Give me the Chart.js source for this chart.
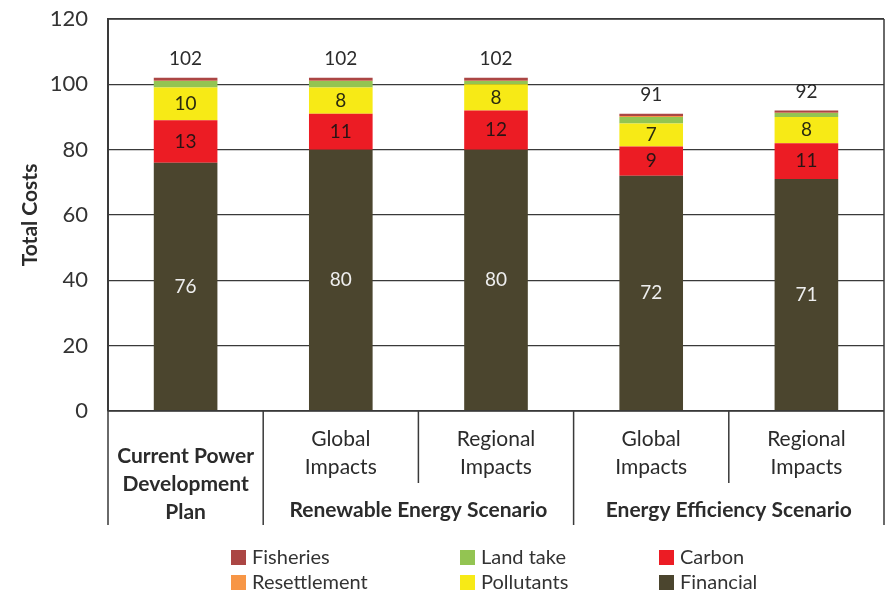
<!DOCTYPE html>
<html>
<head>
<meta charset="utf-8">
<script src="https://cdn.jsdelivr.net/npm/chart.js@4.4.1/dist/chart.umd.min.js"></script>
<style>
  html, body { margin: 0; padding: 0; background: #fff; }
  #wrap { width: 886px; height: 593px; position: relative; }
</style>
</head>
<body>
<div id="wrap"><canvas id="costChart"></canvas></div>
<script>
// Data
const categories = ['Current Power Development Plan', 'RE Global Impacts', 'RE Regional Impacts', 'EE Global Impacts', 'EE Regional Impacts'];
const categoryLines = [['Current Power', 'Development', 'Plan'], ['Global', 'Impacts'], ['Regional', 'Impacts'], ['Global', 'Impacts'], ['Regional', 'Impacts']];
const scenarioGroups = [
  { label: 'Renewable Energy Scenario', from: 1, to: 2 },
  { label: 'Energy Efficiency Scenario', from: 3, to: 4 }
];
const financial = [76, 80, 80, 72, 71];
const carbon = [13, 11, 12, 9, 11];
const pollutants = [10, 8, 8, 7, 8];
const landTake = [2, 2, 1, 2, 1.2];
const resettlement = [0.1, 0.1, 0.1, 0.3, 0.1];
const fisheries = [0.9, 0.9, 0.9, 0.7, 0.7];
const yMin = 0;
const yMax = 120;
const yStep = 20;

const FONT = 'Lato, "Open Sans", sans-serif';
const TEXT = '#2b2b2b';
const LINE = '#3a3a3a';

const datasets = [
  { label: 'Financial', data: financial, backgroundColor: '#4b452e', valueColor: '#eeeeee' },
  { label: 'Carbon', data: carbon, backgroundColor: '#ec1c24', valueColor: '#2a1414' },
  { label: 'Pollutants', data: pollutants, backgroundColor: '#f7ea16', valueColor: '#2a2a10' },
  { label: 'Land take', data: landTake, backgroundColor: '#93c452' },
  { label: 'Resettlement', data: resettlement, backgroundColor: '#f79646' },
  { label: 'Fisheries', data: fisheries, backgroundColor: '#ab4644' }
];
const legendColumns = [['Fisheries', 'Resettlement'], ['Land take', 'Pollutants'], ['Carbon', 'Financial']];

// value labels inside segments and totals on top
const valueLabels = {
  id: 'valueLabels',
  afterDatasetsDraw(chart) {
    const ctx = chart.ctx;
    ctx.save();
    ctx.font = `19px ${FONT}`;
    ctx.textAlign = 'center';
    ctx.textBaseline = 'middle';
    chart.data.datasets.forEach((ds, di) => {
      if (!ds.valueColor) return;
      const meta = chart.getDatasetMeta(di);
      meta.data.forEach((bar, i) => {
        ctx.fillStyle = ds.valueColor;
        ctx.fillText(String(ds.data[i]), bar.x, (bar.y + bar.base) / 2);
      });
    });
    const topMeta = chart.getDatasetMeta(chart.data.datasets.length - 1);
    topMeta.data.forEach((bar, i) => {
      const total = chart.data.datasets.reduce((s, ds) => s + ds.data[i], 0);
      ctx.fillStyle = TEXT;
      ctx.fillText(String(Math.round(total)), bar.x, bar.y - 19);
    });
    ctx.restore();
  }
};

// frame, category table and legend
const tableAndLegend = {
  id: 'tableAndLegend',
  afterDraw(chart) {
    const ctx = chart.ctx;
    const area = chart.chartArea;
    const x = chart.scales.x;
    const catW = (area.right - area.left) / categories.length;
    const tableBottom = 525;
    const midLine = 483;
    ctx.save();
    ctx.strokeStyle = LINE;
    ctx.lineWidth = 1.5;
    ctx.beginPath();
    ctx.moveTo(area.left, area.top);
    ctx.lineTo(area.right, area.top);
    ctx.moveTo(area.right, area.top);
    ctx.lineTo(area.right, tableBottom);
    ctx.moveTo(area.left, area.bottom);
    ctx.lineTo(area.right, area.bottom);
    for (let i = 0; i < categories.length; i++) {
      const left = x.getPixelForValue(i) - catW / 2;
      const inGroup = scenarioGroups.some(g => i > g.from && i <= g.to);
      ctx.moveTo(left, area.bottom);
      ctx.lineTo(left, inGroup ? midLine : tableBottom);
    }
    ctx.stroke();

    ctx.fillStyle = TEXT;
    ctx.textAlign = 'center';
    ctx.textBaseline = 'middle';
    categoryLines.forEach((lines, i) => {
      const cx = x.getPixelForValue(i);
      if (i === 0) {
        ctx.font = `bold 21px ${FONT}`;
        lines.forEach((t, k) => ctx.fillText(t, cx, 456 + k * 28));
      } else {
        ctx.font = `21px ${FONT}`;
        lines.forEach((t, k) => ctx.fillText(t, cx, 439 + k * 28));
      }
    });
    ctx.font = `bold 21px ${FONT}`;
    scenarioGroups.forEach(g => {
      const cx = (x.getPixelForValue(g.from) + x.getPixelForValue(g.to)) / 2;
      ctx.fillText(g.label, cx, 510);
    });

    // y title
    ctx.save();
    ctx.translate(30, 215);
    ctx.rotate(-Math.PI / 2);
    ctx.font = `bold 21px ${FONT}`;
    ctx.fillText('Total Costs', 0, 0);
    ctx.restore();

    // legend
    const colX = [231, 460, 659];
    const rowY = [557, 582];
    ctx.font = `20px ${FONT}`;
    ctx.textAlign = 'left';
    legendColumns.forEach((col, c) => {
      col.forEach((name, r) => {
        const ds = chart.data.datasets.find(d => d.label === name);
        ctx.fillStyle = ds.backgroundColor;
        ctx.fillRect(colX[c], rowY[r] - 7, 15, 15);
        ctx.fillStyle = '#333';
        ctx.fillText(name, colX[c] + 21, rowY[r] + 1);
      });
    });
    ctx.restore();
  }
};

const ctx = document.getElementById('costChart').getContext('2d');
new Chart(ctx, {
  type: 'bar',
  data: {
    labels: categories,
    datasets: datasets.map(d => Object.assign({ borderWidth: 0, barPercentage: 0.41, categoryPercentage: 1 }, d))
  },
  options: {
    responsive: true,
    maintainAspectRatio: false,
    animation: false,
    layout: { padding: { left: 0, top: 19, right: 2, bottom: 182 } },
    plugins: { legend: { display: false }, tooltip: { enabled: false } },
    scales: {
      x: { stacked: true, display: false },
      y: {
        stacked: true,
        min: yMin,
        max: yMax,
        afterFit(scale) {
          scale.width = 108;
          scale.paddingTop = 0;
          scale.paddingBottom = 0;
        },
        ticks: { stepSize: yStep, padding: 20, color: '#333', font: { family: FONT, size: 22 } },
        grid: { color: LINE, lineWidth: 1.3, drawTicks: false },
        border: { display: true, color: LINE, width: 2 }
      }
    }
  },
  plugins: [valueLabels, tableAndLegend]
});
</script>
</body>
</html>
